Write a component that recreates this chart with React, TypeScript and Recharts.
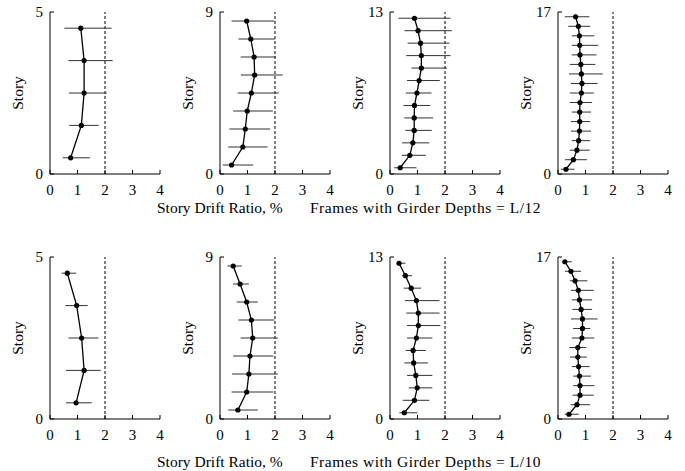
import React from "react";
import { ScatterChart, Scatter, XAxis, YAxis, ErrorBar, ReferenceLine } from "recharts";

const X_TICKS = [0, 1, 2, 3, 4];

// mid-height of each story, bottom to top
const LEVELS_5 = [0.5, 1.5, 2.5, 3.5, 4.5];
const LEVELS_9 = [0.5, 1.5, 2.5, 3.5, 4.5, 5.5, 6.5, 7.5, 8.5];
const LEVELS_13 = [0.5, 1.5, 2.5, 3.5, 4.5, 5.5, 6.5, 7.5, 8.5, 9.5, 10.5, 11.5, 12.5];
const LEVELS_17 = [
  0.5, 1.5, 2.5, 3.5, 4.5, 5.5, 6.5, 7.5, 8.5, 9.5, 10.5, 11.5, 12.5, 13.5, 14.5, 15.5, 16.5,
];

// girder depth L/12 (top row)
const MEAN_5_L12 = [0.75, 1.14, 1.24, 1.24, 1.12];
const LOW_5_L12 = [0.46, 0.7, 0.69, 0.67, 0.52];
const HIGH_5_L12 = [1.45, 1.77, 2.06, 2.28, 2.24];

const MEAN_9_L12 = [0.42, 0.83, 0.92, 0.99, 1.14, 1.26, 1.24, 1.12, 0.97];
const LOW_9_L12 = [0.1, 0.3, 0.34, 0.48, 0.64, 0.76, 0.75, 0.67, 0.42];
const HIGH_9_L12 = [1.21, 1.73, 1.82, 1.92, 2.13, 2.28, 2.04, 2.0, 1.98];

const MEAN_13_L12 = [0.37, 0.72, 0.83, 0.88, 0.88, 0.89, 0.98, 1.06, 1.14, 1.14, 1.11, 1.02, 0.89];
const LOW_13_L12 = [0.15, 0.43, 0.44, 0.56, 0.52, 0.49, 0.57, 0.62, 0.78, 0.59, 0.64, 0.53, 0.31];
const HIGH_13_L12 = [0.96, 1.3, 1.43, 1.52, 1.57, 1.46, 1.51, 1.81, 2.07, 2.2, 2.16, 2.25, 2.2];

const MEAN_17_L12 = [
  0.29, 0.56, 0.69, 0.75, 0.78, 0.79, 0.79, 0.8, 0.85, 0.87, 0.85, 0.83, 0.8, 0.79, 0.78, 0.74, 0.64,
];
const LOW_17_L12 = [
  0.1, 0.25, 0.43, 0.5, 0.47, 0.47, 0.5, 0.43, 0.43, 0.47, 0.4, 0.43, 0.5, 0.5, 0.5, 0.37, 0.25,
];
const HIGH_17_L12 = [
  0.6, 1.05, 1.15, 1.17, 1.2, 1.17, 1.2, 1.24, 1.3, 1.44, 1.63, 1.36, 1.4, 1.46, 1.32, 1.17, 1.14,
];

// girder depth L/10 (bottom row)
const MEAN_5_L10 = [0.95, 1.24, 1.15, 0.97, 0.63];
const LOW_5_L10 = [0.58, 0.58, 0.67, 0.56, 0.42];
const HIGH_5_L10 = [1.52, 1.84, 1.76, 1.37, 0.95];

const MEAN_9_L10 = [0.65, 0.97, 1.05, 1.09, 1.19, 1.14, 0.97, 0.73, 0.48];
const LOW_9_L10 = [0.3, 0.42, 0.44, 0.48, 0.75, 0.67, 0.61, 0.48, 0.27];
const HIGH_9_L10 = [1.37, 1.94, 2.1, 1.94, 2.1, 1.98, 1.37, 1.05, 0.79];

const MEAN_13_L10 = [0.52, 0.89, 0.99, 0.94, 0.86, 0.84, 0.96, 1.03, 1.03, 0.96, 0.77, 0.56, 0.33];
const LOW_13_L10 = [0.34, 0.46, 0.68, 0.62, 0.52, 0.57, 0.62, 0.62, 0.59, 0.54, 0.5, 0.43, 0.25];
const HIGH_13_L10 = [1.0, 1.43, 1.54, 1.54, 1.38, 1.3, 1.54, 1.83, 1.8, 1.8, 1.13, 0.8, 0.56];

const MEAN_17_L10 = [
  0.4, 0.69, 0.8, 0.8, 0.78, 0.75, 0.72, 0.72, 0.87, 0.89, 0.89, 0.84, 0.78, 0.74, 0.62, 0.47, 0.25,
];
const LOW_17_L10 = [
  0.25, 0.46, 0.53, 0.55, 0.55, 0.5, 0.43, 0.41, 0.5, 0.55, 0.47, 0.52, 0.5, 0.47, 0.43, 0.25, 0.15,
];
const HIGH_17_L10 = [
  0.75, 1.17, 1.3, 1.32, 1.2, 1.15, 1.05, 1.03, 1.32, 1.17, 1.44, 1.24, 1.24, 1.3, 1.07, 0.84, 0.5,
];

const FONT = "'Liberation Serif', 'Times New Roman', serif";

type Row = { drift: number; level: number; err: [number, number] };

function buildRows(levels: number[], mean: number[], low: number[], high: number[]): Row[] {
  return levels.map((level, i) => ({
    drift: mean[i],
    level,
    err: [mean[i] - low[i], high[i] - mean[i]],
  }));
}

const Dot = (p: any) => <circle cx={p.cx} cy={p.cy} r={2.6} fill="#000" />;

interface PanelProps {
  stories: number;
  rows: Row[];
  left: number;
  top: number;
}

function Panel({ stories, rows, left, top }: PanelProps) {
  const plotTop = 12;
  const plotH = 162;
  return (
    <div style={{ position: "absolute", left, top }}>
      <ScatterChart
        width={170}
        height={plotTop + plotH + 30}
        margin={{ top: plotTop, right: 10, left: 0, bottom: 0 }}
      >
        <XAxis
          type="number"
          dataKey="drift"
          domain={[0, 4]}
          ticks={X_TICKS}
          allowDataOverflow
          height={30}
          stroke="#000"
          tickSize={-4}
          tickMargin={14}
          tick={{ fill: "#000", fontSize: 15, fontFamily: FONT }}
        />
        <YAxis
          type="number"
          dataKey="level"
          domain={[0, stories]}
          ticks={[0, stories]}
          width={50}
          stroke="#000"
          tickSize={-4}
          tickMargin={11}
          tick={{ fill: "#000", fontSize: 15, fontFamily: FONT }}
        />
        <ReferenceLine x={2} stroke="#000" strokeDasharray="3 2" strokeWidth={1} />
        <Scatter
          data={rows}
          shape={Dot}
          line={{ stroke: "#000", strokeWidth: 1.3 }}
          lineType="joint"
          isAnimationActive={false}
        >
          <ErrorBar dataKey="err" direction="x" width={0} stroke="#333" strokeWidth={1} />
        </Scatter>
      </ScatterChart>
      <div
        style={{
          position: "absolute",
          left: 18,
          top: plotTop + plotH / 2,
          transform: "translate(-50%, -50%) rotate(-90deg)",
          fontFamily: FONT,
          fontSize: 15.5,
          whiteSpace: "nowrap",
        }}
      >
        Story
      </div>
    </div>
  );
}

function Caption({ top, depth }: { top: number; depth: string }) {
  const style: React.CSSProperties = {
    position: "absolute",
    top,
    fontFamily: FONT,
    fontSize: 15.5,
    whiteSpace: "nowrap",
    lineHeight: "17px",
  };
  return (
    <>
      <div style={{ ...style, left: 157 }}>Story Drift Ratio, %</div>
      <div style={{ ...style, left: 310, letterSpacing: 0.5 }}>
        Frames with Girder Depths = {depth}
      </div>
    </>
  );
}

const PANEL_LEFTS = [0, 170, 340, 508];

export default function App() {
  const topRow = [
    { stories: 5, rows: buildRows(LEVELS_5, MEAN_5_L12, LOW_5_L12, HIGH_5_L12) },
    { stories: 9, rows: buildRows(LEVELS_9, MEAN_9_L12, LOW_9_L12, HIGH_9_L12) },
    { stories: 13, rows: buildRows(LEVELS_13, MEAN_13_L12, LOW_13_L12, HIGH_13_L12) },
    { stories: 17, rows: buildRows(LEVELS_17, MEAN_17_L12, LOW_17_L12, HIGH_17_L12) },
  ];
  const bottomRow = [
    { stories: 5, rows: buildRows(LEVELS_5, MEAN_5_L10, LOW_5_L10, HIGH_5_L10) },
    { stories: 9, rows: buildRows(LEVELS_9, MEAN_9_L10, LOW_9_L10, HIGH_9_L10) },
    { stories: 13, rows: buildRows(LEVELS_13, MEAN_13_L10, LOW_13_L10, HIGH_13_L10) },
    { stories: 17, rows: buildRows(LEVELS_17, MEAN_17_L10, LOW_17_L10, HIGH_17_L10) },
  ];

  return (
    <div
      style={{
        position: "absolute",
        left: 0,
        top: 0,
        width: 685,
        height: 471,
        background: "#fff",
        overflow: "hidden",
      }}
    >
      {topRow.map((p, i) => (
        <Panel key={`t${i}`} stories={p.stories} rows={p.rows} left={PANEL_LEFTS[i]} top={0} />
      ))}
      {bottomRow.map((p, i) => (
        <Panel key={`b${i}`} stories={p.stories} rows={p.rows} left={PANEL_LEFTS[i]} top={245} />
      ))}
      <Caption top={199} depth="L/12" />
      <Caption top={453} depth="L/10" />
    </div>
  );
}
